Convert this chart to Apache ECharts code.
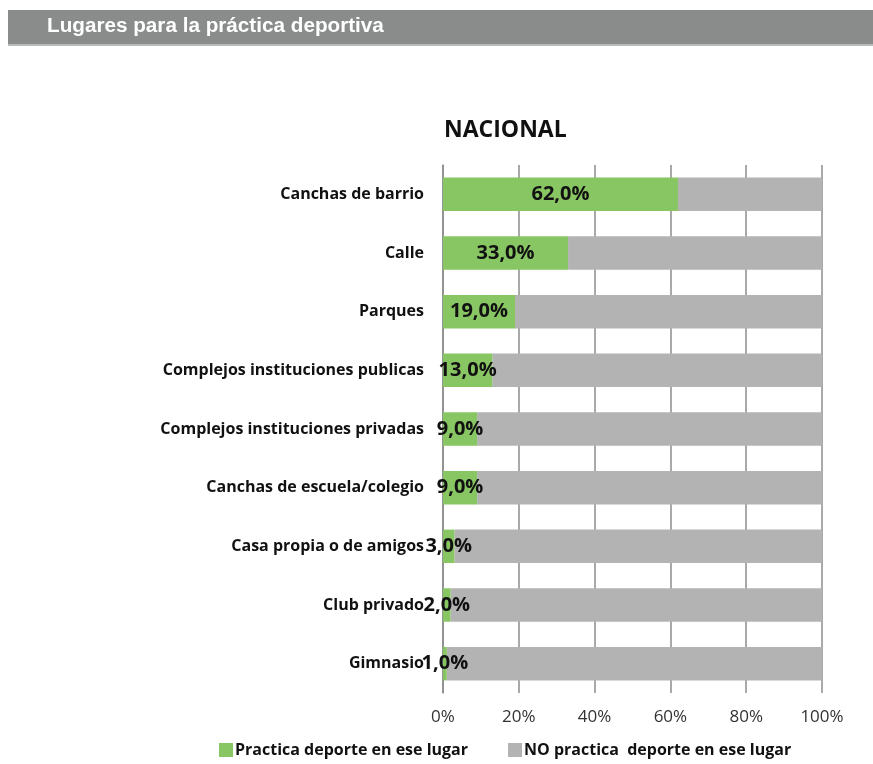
<!DOCTYPE html>
<html>
<head>
<meta charset="utf-8">
<script src="https://cdn.jsdelivr.net/npm/echarts@6/dist/echarts.min.js"></script>
<style>
  html, body { margin: 0; padding: 0; background: #fff; }
  #chart { width: 873px; height: 764px; }
</style>
</head>
<body>
<div id="chart"></div>
<script>
// Lugares donde se practica deporte, total nacional (%)
const categories = [
  'Canchas de barrio',
  'Calle',
  'Parques',
  'Complejos instituciones publicas',
  'Complejos instituciones privadas',
  'Canchas de escuela/colegio',
  'Casa propia o de amigos',
  'Club privado',
  'Gimnasio'
];
const practica = [62, 33, 19, 13, 9, 9, 3, 2, 1];
const noPractica = [38, 67, 81, 87, 91, 91, 97, 98, 99];
const seriesNames = ['Practica deporte en ese lugar', 'NO practica  deporte en ese lugar'];
const tickValues = [0, 20, 40, 60, 80, 100];

const fontFamily = '"Open Sans", Lato, sans-serif';
const chart = echarts.init(document.getElementById('chart'), null, { renderer: 'canvas' });

chart.setOption({
  animation: false,
  backgroundColor: '#ffffff',
  graphic: [
    { type: 'rect', shape: { x: 8, y: 10, width: 865, height: 34 }, style: { fill: '#8a8c8c' } },
    { type: 'rect', shape: { x: 8, y: 44, width: 865, height: 2 }, style: { fill: '#b8baba' } },
    {
      type: 'text', left: 47, top: 16,
      style: {
        text: 'Lugares para la práctica deportiva',
        fill: '#ffffff',
        font: 'bold 20.7px "Liberation Sans", Arial, sans-serif'
      }
    }
  ],
  title: {
    text: 'NACIONAL',
    left: 439,
    top: 114,
    textStyle: { fontFamily: fontFamily, fontWeight: 'bold', fontSize: 23, color: '#111' }
  },
  legend: {
    bottom: 1,
    left: 214,
    itemWidth: 14,
    itemHeight: 14,
    itemGap: 40,
    icon: 'rect',
    textStyle: { fontFamily: fontFamily, fontWeight: 'bold', fontSize: 16, color: '#111', padding: [0, 0, 0, -3] },
    data: seriesNames
  },
  grid: { left: 443, right: 51, top: 165, bottom: 71, containLabel: false },
  xAxis: {
    type: 'value',
    min: 0,
    max: 100,
    interval: 20,
    axisLine: { show: false },
    axisTick: { show: false },
    splitLine: { show: true, lineStyle: { color: '#8c8c8c', width: 1.5 } },
    axisLabel: {
      margin: 16,
      fontFamily: fontFamily,
      fontSize: 17,
      color: '#333',
      formatter: v => tickValues.includes(v) ? v + '%' : ''
    }
  },
  yAxis: {
    type: 'category',
    inverse: true,
    data: categories,
    axisLine: { show: true, lineStyle: { color: '#8c8c8c', width: 1.5 } },
    axisTick: { show: false },
    axisLabel: {
      margin: 19,
      fontFamily: fontFamily,
      fontWeight: 'bold',
      fontSize: 16,
      color: '#111'
    }
  },
  series: [
    {
      name: seriesNames[0],
      type: 'bar',
      stack: 'total',
      barCategoryGap: '43%',
      itemStyle: { color: '#88c563' },
      label: {
        show: true,
        position: 'inside',
        formatter: p => p.value.toFixed(1).replace('.', ',') + '%',
        fontFamily: fontFamily,
        fontWeight: 'bold',
        fontSize: 20,
        color: '#111'
      },
      labelLayout: { hideOverlap: false },
      data: practica,
      z: 3
    },
    {
      name: seriesNames[1],
      type: 'bar',
      stack: 'total',
      barCategoryGap: '43%',
      itemStyle: { color: '#b3b3b3' },
      data: noPractica,
      z: 2
    }
  ]
});
</script>
</body>
</html>
